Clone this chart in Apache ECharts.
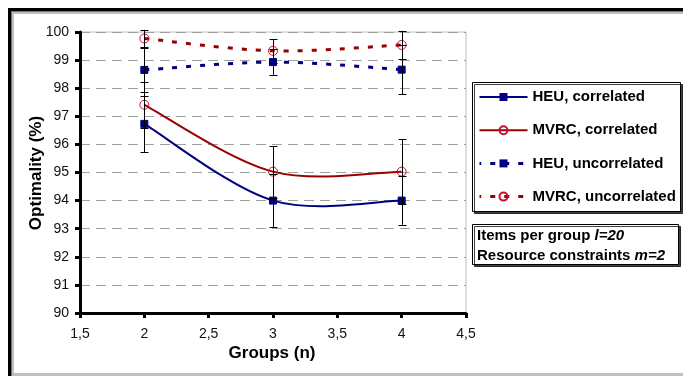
<!DOCTYPE html>
<html>
<head>
<meta charset="utf-8">
<script src="https://cdn.jsdelivr.net/npm/echarts@6/dist/echarts.min.js"></script>
<style>
html,body{margin:0;padding:0;background:#fff;}
#chart{width:683px;height:376px;}
</style>
</head>
<body>
<div id="chart"></div>
<script>
const groups = [2, 3, 4];
const xTicks = [1.5, 2, 2.5, 3, 3.5, 4, 4.5];
const seriesNames = ['HEU, correlated', 'MVRC, correlated', 'HEU, uncorrelated', 'MVRC, uncorrelated'];
const heuCorr = [96.73, 94.0, 94.0];
const mvrcCorr = [97.41, 95.03, 95.03];
const heuUnc = [98.65, 98.93, 98.66];
const mvrcUnc = [99.77, 99.33, 99.54];
const heuCorrErr = [1.0, 0.95, 0.86];
const mvrcCorrErr = [0.82, 0.92, 1.16];
const heuUncErr = [0.77, 0.45, 0.87];
const mvrcUncErr = [0.31, 0.42, 0.5];

const FONT = '"Liberation Sans", Arial, sans-serif';
const BLUE = '#000080';
const RED = '#990000';
const RED_MARK = '#c8102e';

function pts(vals) { return groups.map((g, i) => [g, vals[i]]); }
function errPts(vals, errs) { return groups.map((g, i) => [g, vals[i] - errs[i], vals[i] + errs[i]]); }

const allErr = [].concat(
  errPts(heuCorr, heuCorrErr), errPts(mvrcCorr, mvrcCorrErr),
  errPts(heuUnc, heuUncErr), errPts(mvrcUnc, mvrcUncErr));

// Excel-like smoothed curve (Catmull-Rom as cubic Bezier), drawn from data via api.coord
function curveSeries(vals, lineStyle) {
  return {
    type: 'custom', data: pts(vals), z: 2, silent: true,
    renderItem: function (params, api) {
      if (params.dataIndex !== 0) return null;
      const P = groups.map((g, i) => api.coord([g, vals[i]]));
      const children = [];
      let offset = 0;
      for (let i = 0; i < P.length - 1; i++) {
        const p0 = P[Math.max(i - 1, 0)], p1 = P[i], p2 = P[i + 1], p3 = P[Math.min(i + 2, P.length - 1)];
        const c1 = [p1[0] + (p2[0] - p0[0]) / 6, p1[1] + (p2[1] - p0[1]) / 6];
        const c2 = [p2[0] - (p3[0] - p1[0]) / 6, p2[1] - (p3[1] - p1[1]) / 6];
        const style = Object.assign({fill: null}, lineStyle, {lineDashOffset: offset});
        children.push({type: 'bezierCurve',
          shape: {x1: p1[0], y1: p1[1], x2: p2[0], y2: p2[1], cpx1: c1[0], cpy1: c1[1], cpx2: c2[0], cpy2: c2[1]},
          style: style});
        offset += Math.hypot(p2[0] - p1[0], p2[1] - p1[1]);
      }
      return {type: 'group', children: children};
    }
  };
}

const chart = echarts.init(document.getElementById('chart'), null, {renderer: 'canvas'});

const option = {
  animation: false,
  backgroundColor: '#fff',
  grid: {left: 80, top: 32, right: 217, bottom: 63, show: true, borderColor: '#c0c0c0', borderWidth: 1, backgroundColor: 'transparent'},
  xAxis: {
    type: 'value', min: 1.5, max: 4.5, interval: 0.5,
    axisLine: {show: true, onZero: false, lineStyle: {color: '#000', width: 3}},
    axisTick: {show: true, length: 5, lineStyle: {color: '#000', width: 3}},
    axisLabel: {color: '#111', fontFamily: FONT, fontSize: 14, margin: 14,
      formatter: v => String(v).replace('.', ',')},
    splitLine: {show: false}
  },
  yAxis: {
    type: 'value', min: 90, max: 100, interval: 1,
    axisLine: {show: true, onZero: false, lineStyle: {color: '#000', width: 3}},
    axisTick: {show: true, length: 5, lineStyle: {color: '#000', width: 3}},
    axisLabel: {color: '#111', fontFamily: FONT, fontSize: 14, margin: 11},
    splitLine: {show: true, lineStyle: {color: '#a0a0a0', width: 1, type: [10, 6]}}
  },
  legend: {
    orient: 'vertical', left: 478, top: 89.5, padding: 0, itemWidth: 48, itemHeight: 10, itemGap: 18.2,
    textStyle: {fontFamily: FONT, fontSize: 15, fontWeight: 'bold', color: '#000', lineHeight: 15},
    data: [
      {name: seriesNames[0], lineStyle: {color: BLUE, width: 2, opacity: 1, type: 'solid'}},
      {name: seriesNames[1], lineStyle: {color: RED, width: 2, opacity: 1, type: 'solid'}},
      {name: seriesNames[2], lineStyle: {color: BLUE, width: 3, opacity: 1, type: [5, 9]}},
      {name: seriesNames[3], lineStyle: {color: RED, width: 3, opacity: 1, type: [5, 9]}}
    ]
  },
  series: [
    curveSeries(heuCorr, {stroke: BLUE, lineWidth: 2}),
    curveSeries(mvrcCorr, {stroke: RED, lineWidth: 2}),
    curveSeries(heuUnc, {stroke: BLUE, lineWidth: 3, lineDash: [5, 9]}),
    curveSeries(mvrcUnc, {stroke: RED, lineWidth: 3, lineDash: [5, 9]}),
    {name: seriesNames[0], type: 'line', data: pts(heuCorr),
     symbol: 'rect', symbolSize: 7, z: 3,
     lineStyle: {color: BLUE, width: 2, opacity: 0}, itemStyle: {color: BLUE, borderColor: BLUE}},
    {name: seriesNames[1], type: 'line', data: pts(mvrcCorr),
     symbol: 'circle', symbolSize: 9, z: 3,
     lineStyle: {color: RED, width: 2, opacity: 0}, itemStyle: {color: 'rgba(255,255,255,0)', borderColor: RED_MARK, borderWidth: 1}},
    {name: seriesNames[2], type: 'line', data: pts(heuUnc),
     symbol: 'rect', symbolSize: 7, z: 3,
     lineStyle: {color: BLUE, width: 3, type: [5, 9], opacity: 0}, itemStyle: {color: BLUE, borderColor: BLUE}},
    {name: seriesNames[3], type: 'line', data: pts(mvrcUnc),
     symbol: 'circle', symbolSize: 9, z: 3,
     lineStyle: {color: RED, width: 3, type: [5, 9], opacity: 0}, itemStyle: {color: 'rgba(255,255,255,0)', borderColor: RED_MARK, borderWidth: 1}},
    {type: 'custom', data: allErr, z: 4, silent: true,
     renderItem: function (params, api) {
       const x = api.value(0);
       const lo = api.coord([x, api.value(1)]);
       const hi = api.coord([x, api.value(2)]);
       const cx = Math.round(lo[0]) + 0.5;
       const st = {stroke: '#000', lineWidth: 1};
       return {type: 'group', children: [
         {type: 'line', shape: {x1: cx, y1: lo[1], x2: cx, y2: hi[1]}, style: st},
         {type: 'line', shape: {x1: cx - 4, y1: Math.round(lo[1]) + 0.5, x2: cx + 4, y2: Math.round(lo[1]) + 0.5}, style: st},
         {type: 'line', shape: {x1: cx - 4, y1: Math.round(hi[1]) + 0.5, x2: cx + 4, y2: Math.round(hi[1]) + 0.5}, style: st}
       ]};
     }}
  ],
  graphic: [
    {type: 'rect', z: -10, silent: true, shape: {x: 8, y: 8, width: 700, height: 400}, style: {fill: '#000'}},
    {type: 'rect', z: -9, silent: true, shape: {x: 11, y: 11, width: 700, height: 400}, style: {fill: '#777'}},
    {type: 'rect', z: -8, silent: true, shape: {x: 12, y: 12, width: 700, height: 400}, style: {fill: '#c0c0c0'}},
    {type: 'rect', z: -7, silent: true, shape: {x: 14, y: 14, width: 700, height: 359}, style: {fill: '#fff'}},
    {type: 'rect', z: 1, silent: true, shape: {x: 472.5, y: 82.5, width: 208, height: 129},
     style: {fill: '#fff', stroke: '#000', lineWidth: 1, shadowColor: 'rgba(0,0,0,0.75)', shadowOffsetX: 2, shadowOffsetY: 2, shadowBlur: 0}},
    {type: 'rect', z: 1, silent: true, shape: {x: 472.5, y: 224.5, width: 206, height: 40},
     style: {fill: '#fff', stroke: '#000', lineWidth: 1, shadowColor: 'rgba(0,0,0,0.75)', shadowOffsetX: 2, shadowOffsetY: 2, shadowBlur: 0}},
    {type: 'text', z: 5, silent: true, left: 477, top: 228,
     style: {text: '{a|Items per group }{b|l=20}', rich: {
       a: {fontFamily: FONT, fontSize: 15, fontWeight: 'bold', fill: '#000'},
       b: {fontFamily: FONT, fontSize: 15, fontWeight: 'bold', fontStyle: 'italic', fill: '#000'}}}},
    {type: 'text', z: 5, silent: true, left: 477, top: 248.5,
     style: {text: '{a|Resource constraints }{b|m=2}', rich: {
       a: {fontFamily: FONT, fontSize: 15, fontWeight: 'bold', fill: '#000'},
       b: {fontFamily: FONT, fontSize: 15, fontWeight: 'bold', fontStyle: 'italic', fill: '#000'}}}},
    {type: 'text', z: 5, silent: true, x: 272, y: 353,
     style: {text: 'Groups (n)', fontFamily: FONT, fontSize: 17, fontWeight: 'bold', fill: '#000', align: 'center', verticalAlign: 'middle'}},
    {type: 'text', z: 5, silent: true, x: 36, y: 173, rotation: Math.PI / 2,
     style: {text: 'Optimality (%)', fontFamily: FONT, fontSize: 17, fontWeight: 'bold', fill: '#000', align: 'center', verticalAlign: 'middle'}}
  ]
};
chart.setOption(option);
</script>
</body>
</html>
